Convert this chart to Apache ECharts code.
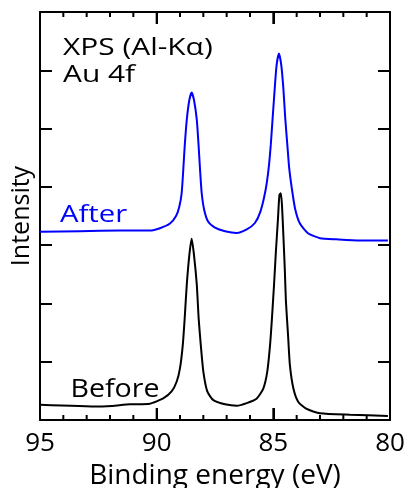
<!DOCTYPE html>
<html>
<head>
<meta charset="utf-8">
<script src="https://cdn.jsdelivr.net/npm/echarts@6/dist/echarts.min.js"></script>
<style>html,body{margin:0;padding:0;background:#fff}#c{width:409px;height:488px}</style>
</head>
<body>
<div id="c"></div>
<script>
// Binding energy (eV) and intensity (arb. units)
const afterEnergy = [95, 93.29, 91.57, 90.29, 89.86, 89.43, 89.17, 89.03, 88.93, 88.86, 88.80, 88.71, 88.60, 88.50, 88.40, 88.28, 88.20, 88.14, 88.07, 87.96, 87.79, 87.5, 87.07, 86.57, 86.14, 85.79, 85.55, 85.33, 85.20, 85.11, 85.03, 84.94, 84.86, 84.76, 84.66, 84.57, 84.49, 84.40, 84.32, 84.21, 84.07, 83.86, 83.5, 83.0, 82.3, 81.29, 80.09];
const afterIntensity = [3.23, 3.24, 3.25, 3.25, 3.29, 3.37, 3.50, 3.66, 3.89, 4.29, 4.69, 5.15, 5.49, 5.62, 5.49, 5.15, 4.69, 4.29, 3.89, 3.60, 3.40, 3.30, 3.24, 3.21, 3.27, 3.38, 3.58, 3.95, 4.32, 4.72, 5.18, 5.69, 6.09, 6.29, 6.09, 5.69, 5.18, 4.72, 4.32, 3.98, 3.63, 3.37, 3.20, 3.12, 3.10, 3.08, 3.08];
const beforeEnergy = [95, 92.43, 91.14, 90.29, 89.72, 89.36, 89.14, 89.0, 88.88, 88.80, 88.71, 88.60, 88.50, 88.40, 88.28, 88.20, 88.11, 88.0, 87.83, 87.57, 87.07, 86.57, 86.14, 85.71, 85.43, 85.26, 85.14, 85.06, 84.97, 84.89, 84.80, 84.74, 84.68, 84.63, 84.57, 84.51, 84.46, 84.37, 84.29, 84.14, 83.93, 83.57, 83.0, 81.71, 80.09];
const beforeIntensity = [0.26, 0.23, 0.27, 0.28, 0.37, 0.49, 0.66, 0.89, 1.29, 1.74, 2.32, 2.83, 3.11, 2.83, 2.32, 1.74, 1.29, 0.83, 0.49, 0.34, 0.27, 0.245, 0.29, 0.37, 0.54, 0.83, 1.29, 1.74, 2.32, 2.89, 3.46, 3.86, 3.89, 3.69, 3.17, 2.60, 2.03, 1.46, 0.94, 0.54, 0.31, 0.19, 0.115, 0.09, 0.07];
const xTicks = [80, 85, 90, 95];
const xMinorTicks = [81, 82, 83, 84, 86, 87, 88, 89, 91, 92, 93, 94];
const seriesNames = ['After', 'Before'];
const annotation = ['XPS (Al-K\u03b1)', 'Au 4f'];

const pair = (xs, ys) => xs.map((x, i) => [x, ys[i]]);
const font = '"Open Sans", "DejaVu Sans", sans-serif';
const Y_MIN = 0, Y_MAX = 7;
const GRID = {left: 40, right: 19, top: 12, bottom: 68};
const PX_PER_UNIT = (488 - GRID.top - GRID.bottom) / (Y_MAX - Y_MIN);

const chart = echarts.init(document.getElementById('c'), null, {renderer: 'canvas'});
function yAxisDef(pos, withName) {
  const a = {
    type: 'value', min: Y_MIN, max: Y_MAX, interval: 1, position: pos,
    axisLine: {show: true, onZero: false, lineStyle: {color: '#000', width: 2}},
    splitLine: {show: false},
    axisTick: {show: true, inside: true, length: 12, lineStyle: {color: '#000', width: 2}},
    axisLabel: {show: false}
  };
  if (withName) {
    a.name = 'Intensity';
    a.nameLocation = 'middle';
    a.nameGap = 6;
    a.nameTextStyle = {fontSize: 25, color: '#000', fontFamily: font};
  }
  return a;
}
// inward x-axis tick marks on bottom and top edges, drawn as broken line segments on the axis scale
function tickSeries(values, lenPx) {
  const d = lenPx / PX_PER_UNIT;
  const pts = [];
  values.forEach(v => {
    pts.push([v, Y_MIN], [v, Y_MIN + d], [v, '-']);
    pts.push([v, Y_MAX], [v, Y_MAX - d], [v, '-']);
  });
  return {
    type: 'line', xAxisIndex: 0, yAxisIndex: 0, silent: true, showSymbol: false, connectNulls: false,
    clip: false, data: pts, lineStyle: {color: '#000', width: 2}, itemStyle: {color: '#000'}, z: 1
  };
}
chart.setOption({
  animation: false,
  grid: Object.assign({outerBoundsMode: 'none', containLabel: false}, GRID),
  xAxis: [
    {
      type: 'value', min: xTicks[0], max: xTicks[xTicks.length - 1], interval: 5, inverse: true, position: 'bottom',
      axisLine: {show: true, onZero: false, lineStyle: {color: '#000', width: 2}},
      splitLine: {show: false},
      axisTick: {show: true, inside: true, length: 12, lineStyle: {color: '#000', width: 2}},
      axisLabel: {show: true, margin: 11, fontSize: 26, color: '#000', fontFamily: font},
      name: 'Binding energy (eV)', nameLocation: 'middle', nameGap: 33,
      nameTextStyle: {fontSize: 28, color: '#000', fontFamily: font}
    },
    {
      type: 'value', min: xTicks[0], max: xTicks[xTicks.length - 1], interval: 5, inverse: true, position: 'top',
      axisLine: {show: true, onZero: false, lineStyle: {color: '#000', width: 2}},
      splitLine: {show: false},
      axisTick: {show: true, inside: true, length: 12, lineStyle: {color: '#000', width: 2}},
      axisLabel: {show: false}
    }
  ],
  yAxis: [yAxisDef('left', true), yAxisDef('right', false)],
  series: [
    tickSeries(xTicks.slice(1, -1), 12),
    tickSeries(xMinorTicks, 5),
    {name: seriesNames[0], type: 'line', xAxisIndex: 0, data: pair(afterEnergy, afterIntensity), showSymbol: false, smooth: 0.2,
     lineStyle: {color: '#0000ff', width: 2}, itemStyle: {color: '#0000ff'}, z: 3},
    {name: seriesNames[1], type: 'line', xAxisIndex: 0, data: pair(beforeEnergy, beforeIntensity), showSymbol: false, smooth: 0.2,
     lineStyle: {color: '#000', width: 2}, itemStyle: {color: '#000'}, z: 3}
  ],
  graphic: [
    {type: 'text', x: 63, y: 48.5, scaleX: 1.3, style: {text: annotation[0], font: '23px ' + font, fill: '#000', textAlign: 'left', textVerticalAlign: 'middle'}},
    {type: 'text', x: 63, y: 75.5, scaleX: 1.3, style: {text: annotation[1], font: '23px ' + font, fill: '#000', textAlign: 'left', textVerticalAlign: 'middle'}},
    {type: 'text', x: 60, y: 215.5, scaleX: 1.22, style: {text: seriesNames[0], font: '24px ' + font, fill: '#0000ff', textAlign: 'left', textVerticalAlign: 'middle'}},
    {type: 'text', x: 70.5, y: 389.5, scaleX: 1.12, style: {text: seriesNames[1], font: '25.5px ' + font, fill: '#000', textAlign: 'left', textVerticalAlign: 'middle'}}
  ]
});
</script>
</body>
</html>
